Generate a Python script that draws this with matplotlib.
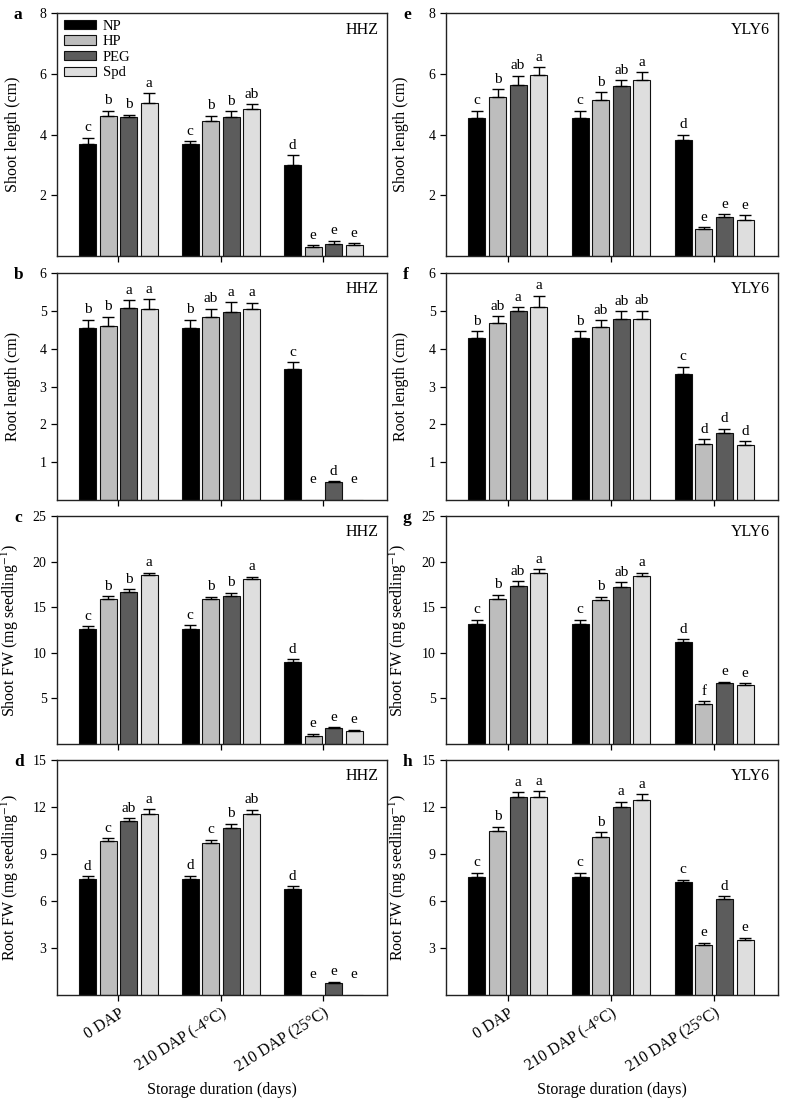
import numpy as np
import matplotlib
matplotlib.use('Agg')
import matplotlib.pyplot as plt

plt.rcParams['font.family'] = ['Liberation Serif', 'DejaVu Serif']
plt.rcParams['mathtext.fontset'] = 'stix'

# categorias e tratamentos
groups = ['0 DAP', '210 DAP (-4°C)', '210 DAP (25°C)']
treatments = ['NP', 'HP', 'PEG', 'Spd']

# dados: cada linha = tratamento (NP, HP, PEG, Spd), colunas = grupos
# a - HHZ shoot length
hhz_shoot_len = [[3.68, 3.68, 2.98], [4.62, 4.45, 0.29], [4.57, 4.56, 0.41], [5.03, 4.84, 0.36]]
hhz_shoot_len_err = [[0.21, 0.10, 0.33], [0.17, 0.16, 0.06], [0.08, 0.20, 0.10], [0.32, 0.15, 0.06]]
hhz_shoot_len_sig = [['c', 'c', 'd'], ['b', 'b', 'e'], ['b', 'b', 'e'], ['a', 'ab', 'e']]

# b - HHZ root length
hhz_root_len = [[4.54, 4.54, 3.45], [4.61, 4.83, 0.0], [5.08, 4.97, 0.48], [5.05, 5.05, 0.0]]
hhz_root_len_err = [[0.23, 0.23, 0.19], [0.23, 0.23, 0.0], [0.20, 0.26, 0.02], [0.25, 0.17, 0.0]]
hhz_root_len_sig = [['b', 'b', 'c'], ['b', 'ab', 'e'], ['a', 'a', 'd'], ['a', 'a', 'e']]

# c - HHZ shoot FW
hhz_shoot_fw = [[12.6, 12.6, 9.04], [15.93, 15.86, 0.91], [16.62, 16.26, 1.71], [18.51, 18.11, 1.45]]
hhz_shoot_fw_err = [[0.29, 0.40, 0.25], [0.26, 0.29, 0.14], [0.33, 0.33, 0.14], [0.29, 0.22, 0.11]]
hhz_shoot_fw_sig = [['c', 'c', 'd'], ['b', 'b', 'e'], ['b', 'b', 'e'], ['a', 'a', 'e']]

# d - HHZ root FW
hhz_root_fw = [[7.39, 7.39, 6.77], [9.84, 9.71, 0.0], [11.08, 10.65, 0.79], [11.57, 11.57, 0.0]]
hhz_root_fw_err = [[0.20, 0.22, 0.17], [0.17, 0.21, 0.0], [0.19, 0.28, 0.05], [0.30, 0.26, 0.0]]
hhz_root_fw_sig = [['d', 'd', 'd'], ['c', 'c', 'e'], ['ab', 'b', 'e'], ['a', 'ab', 'e']]

# e - YLY6 shoot length
yly_shoot_len = [[4.54, 4.54, 3.81], [5.23, 5.12, 0.89], [5.63, 5.59, 1.29], [5.95, 5.81, 1.18]]
yly_shoot_len_err = [[0.24, 0.24, 0.18], [0.26, 0.28, 0.06], [0.30, 0.20, 0.09], [0.27, 0.24, 0.16]]
yly_shoot_len_sig = [['c', 'c', 'd'], ['b', 'b', 'e'], ['ab', 'ab', 'e'], ['a', 'a', 'e']]

# f - YLY6 root length
yly_root_len = [[4.27, 4.27, 3.33], [4.67, 4.58, 1.48], [4.99, 4.78, 1.77], [5.09, 4.78, 1.46]]
yly_root_len_err = [[0.19, 0.19, 0.19], [0.19, 0.17, 0.13], [0.10, 0.21, 0.11], [0.31, 0.22, 0.10]]
yly_root_len_sig = [['b', 'b', 'c'], ['ab', 'ab', 'd'], ['a', 'ab', 'd'], ['a', 'ab', 'd']]

# g - YLY6 shoot FW
yly_shoot_fw = [[13.14, 13.14, 11.2], [15.91, 15.84, 4.38], [17.37, 17.19, 6.64], [18.8, 18.43, 6.46]]
yly_shoot_fw_err = [[0.51, 0.51, 0.30], [0.48, 0.29, 0.29], [0.48, 0.55, 0.18], [0.36, 0.37, 0.18]]
yly_shoot_fw_sig = [['c', 'c', 'd'], ['b', 'b', 'f'], ['ab', 'ab', 'e'], ['a', 'a', 'e']]

# h - YLY6 root FW
yly_root_fw = [[7.56, 7.56, 7.2], [10.45, 10.11, 3.21], [12.61, 12.0, 6.14], [12.61, 12.44, 3.52]]
yly_root_fw_err = [[0.23, 0.23, 0.15], [0.29, 0.29, 0.12], [0.32, 0.34, 0.17], [0.38, 0.36, 0.13]]
yly_root_fw_sig = [['c', 'c', 'c'], ['b', 'b', 'e'], ['a', 'a', 'd'], ['a', 'a', 'e']]

bar_colors = ['#000000', '#bdbdbd', '#5c5c5c', '#dedede']
offsets = [-0.3, -0.1, 0.1, 0.3]
W, H = 786, 1106


def draw_panel(ax, vals, errs, sigs, yticks, ylabel, strain, show_x):
    x = np.arange(len(groups))
    ymax = yticks[-1]
    for i in range(len(treatments)):
        v = np.array(vals[i])
        e = np.array(errs[i])
        xp = x + offsets[i]
        ax.bar(xp, v, 0.165, color=bar_colors[i], edgecolor='#111111',
               linewidth=0.8, label=treatments[i], zorder=2)
        m = v > 0
        ax.errorbar(xp[m], v[m], yerr=[np.zeros(m.sum()), e[m]], fmt='none',
                    ecolor='black', elinewidth=1, capsize=4.3, capthick=1, zorder=3)
        # letras de significancia
        for xi, vi, ei, s in zip(xp, v, e, sigs[i]):
            base = max(vi + ei, ymax * 0.045)
            ax.annotate(s, (xi, base), xytext=(0, 2.5), textcoords='offset points',
                        ha='center', va='bottom', fontsize=11)
    ax.set_xlim(-0.6, 2.62)
    ax.set_ylim(0, ymax)
    ax.set_yticks(yticks)
    ax.set_xticks(x)
    ax.tick_params(direction='out', length=4, width=0.9, labelsize=10)
    for sp in ax.spines.values():
        sp.set_linewidth(1.0)
        sp.set_color('#222222')
    ax.set_ylabel(ylabel, fontsize=11.5)
    ax.yaxis.set_label_coords(-0.11, 0.5)
    ax.text(0.975, 0.965, strain, transform=ax.transAxes, ha='right', va='top', fontsize=11.5)
    if show_x:
        ax.set_xticklabels(groups, rotation=32, ha='right', rotation_mode='anchor', fontsize=11.5)
        ax.set_xlabel('Storage duration (days)', fontsize=11.5)
        ax.xaxis.set_label_coords(0.5, -0.37)
    else:
        ax.set_xticklabels([])


fig = plt.figure(figsize=(W / 100, H / 100), dpi=100)

col_left = [57, 446]
col_width = [330, 332]
rows = [(13, 256), (273, 500), (516, 744), (760, 995)]

fw_label_s = 'Shoot FW (mg seedling$^{-1}$)'
fw_label_r = 'Root FW (mg seedling$^{-1}$)'

panels = [
    [(hhz_shoot_len, hhz_shoot_len_err, hhz_shoot_len_sig, [2, 4, 6, 8], 'Shoot length (cm)', 'HHZ', 'a'),
     (hhz_root_len, hhz_root_len_err, hhz_root_len_sig, [1, 2, 3, 4, 5, 6], 'Root length (cm)', 'HHZ', 'b'),
     (hhz_shoot_fw, hhz_shoot_fw_err, hhz_shoot_fw_sig, [5, 10, 15, 20, 25], fw_label_s, 'HHZ', 'c'),
     (hhz_root_fw, hhz_root_fw_err, hhz_root_fw_sig, [3, 6, 9, 12, 15], fw_label_r, 'HHZ', 'd')],
    [(yly_shoot_len, yly_shoot_len_err, yly_shoot_len_sig, [2, 4, 6, 8], 'Shoot length (cm)', 'YLY6', 'e'),
     (yly_root_len, yly_root_len_err, yly_root_len_sig, [1, 2, 3, 4, 5, 6], 'Root length (cm)', 'YLY6', 'f'),
     (yly_shoot_fw, yly_shoot_fw_err, yly_shoot_fw_sig, [5, 10, 15, 20, 25], fw_label_s, 'YLY6', 'g'),
     (yly_root_fw, yly_root_fw_err, yly_root_fw_sig, [3, 6, 9, 12, 15], fw_label_r, 'YLY6', 'h')],
]

letter_x = [14, 403]

for c in range(2):
    for r in range(4):
        top, bot = rows[r]
        ax = fig.add_axes([col_left[c] / W, 1 - bot / H, col_width[c] / W, (bot - top) / H])
        vals, errs, sigs, yt, yl, strain, letter = panels[c][r]
        draw_panel(ax, vals, errs, sigs, yt, yl, strain, r == 3)
        fig.text(letter_x[c] / W, 1 - (top + 2) / H, letter, fontsize=12.5,
                 fontweight='bold', ha='left', va='center')
        if c == 0 and r == 0:
            ax.legend(loc='upper left', frameon=False, fontsize=10.5, handlelength=2.2,
                      handleheight=0.62, labelspacing=0.18, borderaxespad=0.25,
                      borderpad=0.2, handletextpad=0.5)

fig.savefig('out.png', dpi=100)
